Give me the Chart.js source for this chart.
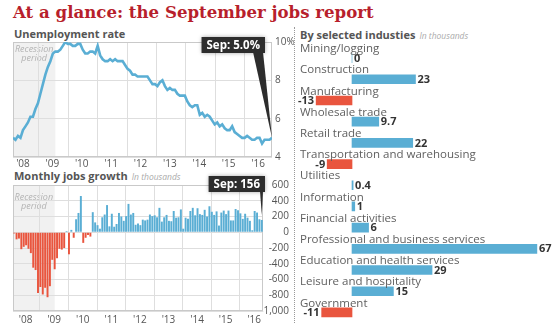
<!DOCTYPE html>
<html lang="en">
<head>
<meta charset="UTF-8">
<meta name="viewport" content="width=device-width, initial-scale=1.0">
<title>At a glance: the September jobs report</title>
<script src="https://cdn.jsdelivr.net/npm/chart.js"></script>
<style>
  body { margin: 0; background: #fff; font-family: "Open Sans", sans-serif; }
  #wrap { position: relative; width: 554px; height: 331px; overflow: hidden; }
  h1 { position: absolute; left: 13px; top: 2px; margin: 0; font: bold 16.6px "DejaVu Serif", serif; color: #b81f2c; white-space: nowrap; }
  .sub { position: absolute; font-size: 11px; font-weight: bold; color: #555; white-space: nowrap; line-height: 14px; }
  .sub i { font-weight: normal; font-size: 8.5px; color: #aaa; margin-left: 4px; }
  canvas { position: absolute; }
  #rule { position: absolute; left: 294px; top: 27px; height: 296px; border-left: 1px dotted #999; }
</style>
</head>
<body>
<div id="wrap">
  <h1>At a glance: the September jobs report</h1>
  <div class="sub" style="left:14px; top:27px">Unemployment rate</div>
  <div class="sub" style="left:14px; top:169px">Monthly jobs growth<i>In thousands</i></div>
  <div class="sub" style="left:300px; top:28px">By selected industies<i>In thousands</i></div>
  <div id="rule"></div>
  <canvas id="rate" width="294" height="140" style="left:0; top:30px"></canvas>
  <canvas id="jobs" width="294" height="159" style="left:0; top:172px"></canvas>
  <canvas id="ind" width="258" height="286" style="left:296px; top:37px"></canvas>
</div>

<script>
// monthly data, Jan 2008 .. Sep 2016
const yearLabels = ["'08", "'09", "'10", "'11", "'12", "'13", "'14", "'15", "'16"];

const unemploymentRate = [
  5.0, 4.9, 5.1, 5.0, 5.4, 5.6, 5.8, 6.1, 6.1, 6.5, 6.8, 7.3,
  7.8, 8.3, 8.7, 9.0, 9.4, 9.5, 9.5, 9.6, 9.8, 10.0, 9.9, 9.9,
  9.8, 9.8, 9.9, 9.9, 9.6, 9.4, 9.4, 9.5, 9.5, 9.4, 9.8, 9.3,
  9.1, 9.0, 9.0, 9.1, 9.0, 9.1, 9.0, 9.0, 9.0, 8.8, 8.6, 8.5,
  8.3, 8.3, 8.2, 8.2, 8.2, 8.2, 8.2, 8.0, 7.8, 7.8, 7.7, 7.9,
  8.0, 7.7, 7.5, 7.6, 7.5, 7.5, 7.3, 7.2, 7.2, 7.2, 6.9, 6.7,
  6.6, 6.7, 6.7, 6.2, 6.3, 6.1, 6.2, 6.1, 5.9, 5.7, 5.8, 5.6,
  5.7, 5.5, 5.4, 5.4, 5.6, 5.3, 5.2, 5.1, 5.0, 5.0, 5.1, 5.0,
  4.9, 4.9, 5.0, 5.0, 4.7, 4.9, 4.9, 4.9, 5.0
];

const jobsChange = [
  -15, -90, -80, -215, -185, -165, -210, -265, -450, -480, -770, -695,
  -790, -705, -825, -685, -350, -470, -330, -210, -220, -200, 15, -280,
  30, -70, 165, 245, 460, -135, -70, -35, -55, 255, 125, 90,
  45, 190, 225, 345, 75, 235, 70, 105, 245, 200, 145, 205,
  360, 225, 245, 95, 110, 90, 160, 150, 160, 225, 205, 215,
  190, 310, 135, 190, 220, 145, 140, 270, 185, 190, 290, 45,
  185, 170, 270, 310, 215, 305, 230, 220, 285, 200, 330, 260,
  220, 265, 85, 250, 275, 230, 275, 150, 150, 295, 280, 240,
  170, 235, 185, 145, 25, 270, 250, 165, 156
];

const recessionEndMonth = 17; // June 2009

const industries = [
  'Mining/logging', 'Construction', 'Manufacturing', 'Wholesale trade', 'Retail trade',
  'Transportation and warehousing', 'Utilities', 'Information', 'Financial activities',
  'Professional and business services', 'Education and health services',
  'Leisure and hospitality', 'Government'
];
const industryChange = [0, 23, -13, 9.7, 22, -9, 0.4, 1, 6, 67, 29, 15, -11];

const BLUE = '#5aaed4';
const RED = '#e9553e';
const GRID = '#dedede';
const FRAME = '#c9c9c9';

Chart.defaults.font.family = '"Open Sans", sans-serif';
Chart.defaults.color = '#555';

// x axis: year labels and year gridlines sit at their own offsets, like the original
function monthAxis(min, max, gridStart, labelStart, step, pad, height) {
  return {
    type: 'linear', min: min, max: max, offset: false,
    afterBuildTicks: s => {
      const t = [];
      yearLabels.forEach((lab, k) => {
        t.push({ value: labelStart + k * step, text: lab });
        const g = gridStart + k * step;
        if (g < max) t.push({ value: g, text: '', grid: true });
      });
      s.ticks = t;
    },
    ticks: { autoSkip: false, maxRotation: 0, padding: pad, font: { size: 10 },
      callback: (v, i, ticks) => ticks[i].text },
    grid: { drawTicks: false, offset: false,
      color: c => (c.tick && c.tick.grid) ? GRID : 'rgba(0,0,0,0)' },
    border: { display: false },
    afterFit: s => { s.height = height; }
  };
}

// recession shading + plot frame
const backdrop = {
  id: 'backdrop',
  beforeDraw(chart, args, o) {
    const { ctx, chartArea: a, scales: { x } } = chart;
    const right = x.getPixelForValue(recessionEndMonth);
    ctx.save();
    ctx.fillStyle = '#f1f1f1';
    ctx.fillRect(a.left, a.top, right - a.left, a.bottom - a.top);
    ctx.fillStyle = '#b3b3b3';
    ctx.font = 'italic 9px "Open Sans"';
    ctx.textAlign = 'center';
    ctx.textBaseline = 'middle';
    const cx = (a.left + right) / 2;
    ctx.fillText('Recession', cx, a.top + o.textTop);
    ctx.fillText('period', cx, a.top + o.textTop + 9.5);
    ctx.restore();
  },
  beforeDatasetsDraw(chart) {
    const { ctx, chartArea: a } = chart;
    ctx.save();
    ctx.strokeStyle = FRAME;
    ctx.lineWidth = 1;
    ctx.strokeRect(Math.round(a.left) + 0.5, Math.round(a.top) + 0.5,
      Math.round(a.width) - 1, Math.round(a.height) - 1);
    ctx.restore();
  }
};

// dark "Sep: ..." box pointing at the last value
const callout = {
  id: 'callout',
  afterDatasetsDraw(chart, args, o) {
    const { ctx, chartArea: a } = chart;
    const meta = chart.getDatasetMeta(0);
    const el = meta.data[meta.data.length - 1];
    ctx.save();
    ctx.font = 'bold 11.5px "Open Sans"';
    const w = ctx.measureText(o.text).width + 10, h = 16;
    const bx = a.right + o.dx - w, by = a.top + o.dy;
    ctx.fillStyle = '#2d2d2d';
    ctx.shadowColor = 'rgba(0,0,0,0.35)';
    ctx.shadowBlur = 4;
    ctx.fillRect(bx, by, w, h);
    ctx.shadowBlur = 0;
    ctx.beginPath();
    ctx.moveTo(bx + w - o.wedge - 2, by + h - 1);
    ctx.lineTo(bx + w - 2, by + h - 1);
    ctx.lineTo(el.x, el.y - o.gap);
    ctx.closePath();
    ctx.fill();
    ctx.fillStyle = '#fff';
    ctx.textAlign = 'center';
    ctx.textBaseline = 'middle';
    ctx.fillText(o.text, bx + w / 2, by + h / 2 + 0.5);
    ctx.restore();
  }
};

const common = {
  responsive: false,
  animation: false,
  events: []
};

new Chart(document.getElementById('rate'), {
  type: 'line',
  data: {
    datasets: [{
      data: unemploymentRate.map((v, i) => ({ x: i, y: v })),
      borderColor: BLUE,
      borderWidth: 2.6,
      pointRadius: 0,
      tension: 0
    }]
  },
  options: Object.assign({}, common, {
    layout: { padding: { left: 13, top: 12, right: 0, bottom: 0 } },
    plugins: {
      legend: { display: false },
      tooltip: { enabled: false },
      backdrop: { textTop: 7 },
      callout: {
        text: 'Sep: ' + unemploymentRate[unemploymentRate.length - 1].toFixed(1) + '%',
        dx: -7, dy: -5, wedge: 10, gap: 0
      }
    },
    scales: {
      x: monthAxis(0, unemploymentRate.length - 1, 10.4, 4.0, 11.8, 1, 13),
      y: {
        position: 'right', min: 4, max: 10,
        ticks: { stepSize: 2, padding: 3, font: { size: 10 },
          callback: v => v === 10 ? '10%' : v },
        grid: { color: GRID, drawTicks: false },
        border: { display: false },
        afterFit: s => { s.width = 22; }
      }
    }
  }),
  plugins: [backdrop, callout]
});

new Chart(document.getElementById('jobs'), {
  type: 'bar',
  data: {
    datasets: [{
      data: jobsChange.map((v, i) => ({ x: i, y: v })),
      backgroundColor: c => (c.raw && c.raw.y < 0) ? RED : BLUE,
      categoryPercentage: 1,
      barPercentage: 0.82
    }]
  },
  options: Object.assign({}, common, {
    layout: { padding: { left: 13, top: 13, right: 5, bottom: 0 } },
    plugins: {
      legend: { display: false },
      tooltip: { enabled: false },
      backdrop: { textTop: 12 },
      callout: {
        text: 'Sep: ' + jobsChange[jobsChange.length - 1],
        dx: 2, dy: -9, wedge: 3, gap: 5
      }
    },
    scales: {
      x: monthAxis(-0.5, jobsChange.length - 0.5, 10.8, 4.8, 12, 3, 20),
      y: {
        position: 'right', min: -1000, max: 600,
        ticks: { stepSize: 200, padding: 0, crossAlign: 'far', font: { size: 10 },
          callback: v => v.toLocaleString('en-US') },
        grid: { color: GRID, drawTicks: false },
        border: { display: false },
        afterFit: s => { s.width = 26; }
      }
    }
  }),
  plugins: [backdrop, callout]
});

// industry names above each bar, values at the bar ends
const industryLabels = {
  id: 'industryLabels',
  afterDatasetsDraw(chart) {
    const { ctx, chartArea: a, scales: { y } } = chart;
    const meta = chart.getDatasetMeta(0);
    const band = y.getPixelForValue(1) - y.getPixelForValue(0);
    ctx.save();
    ctx.textBaseline = 'middle';
    industries.forEach((name, i) => {
      const bar = meta.data[i];
      ctx.font = '11.5px "Open Sans"';
      ctx.fillStyle = '#606060';
      ctx.textAlign = 'left';
      ctx.fillText(name, a.left + 4, y.getPixelForValue(i) - band / 2 + 1.5);
      const v = industryChange[i];
      ctx.font = 'bold 11px "Open Sans"';
      ctx.fillStyle = '#333';
      if (v < 0) {
        ctx.textAlign = 'right';
        ctx.fillText(String(v), bar.x - 2, bar.y + 0.5);
      } else {
        ctx.textAlign = 'left';
        ctx.fillText(String(v), bar.x + 2, bar.y + 0.5);
      }
    });
    ctx.restore();
  }
};

new Chart(document.getElementById('ind'), {
  type: 'bar',
  data: {
    labels: industries,
    datasets: [{
      data: industryChange,
      backgroundColor: industryChange.map(v => v < 0 ? RED : BLUE),
      barThickness: 9
    }]
  },
  options: Object.assign({}, common, {
    indexAxis: 'y',
    layout: { padding: { top: 10.5, left: 0, right: 0, bottom: 0 } },
    plugins: { legend: { display: false }, tooltip: { enabled: false } },
    scales: {
      x: { display: false, min: -20.3, max: 73.2 },
      y: { display: false }
    }
  }),
  plugins: [industryLabels]
});
</script>
</body>
</html>
